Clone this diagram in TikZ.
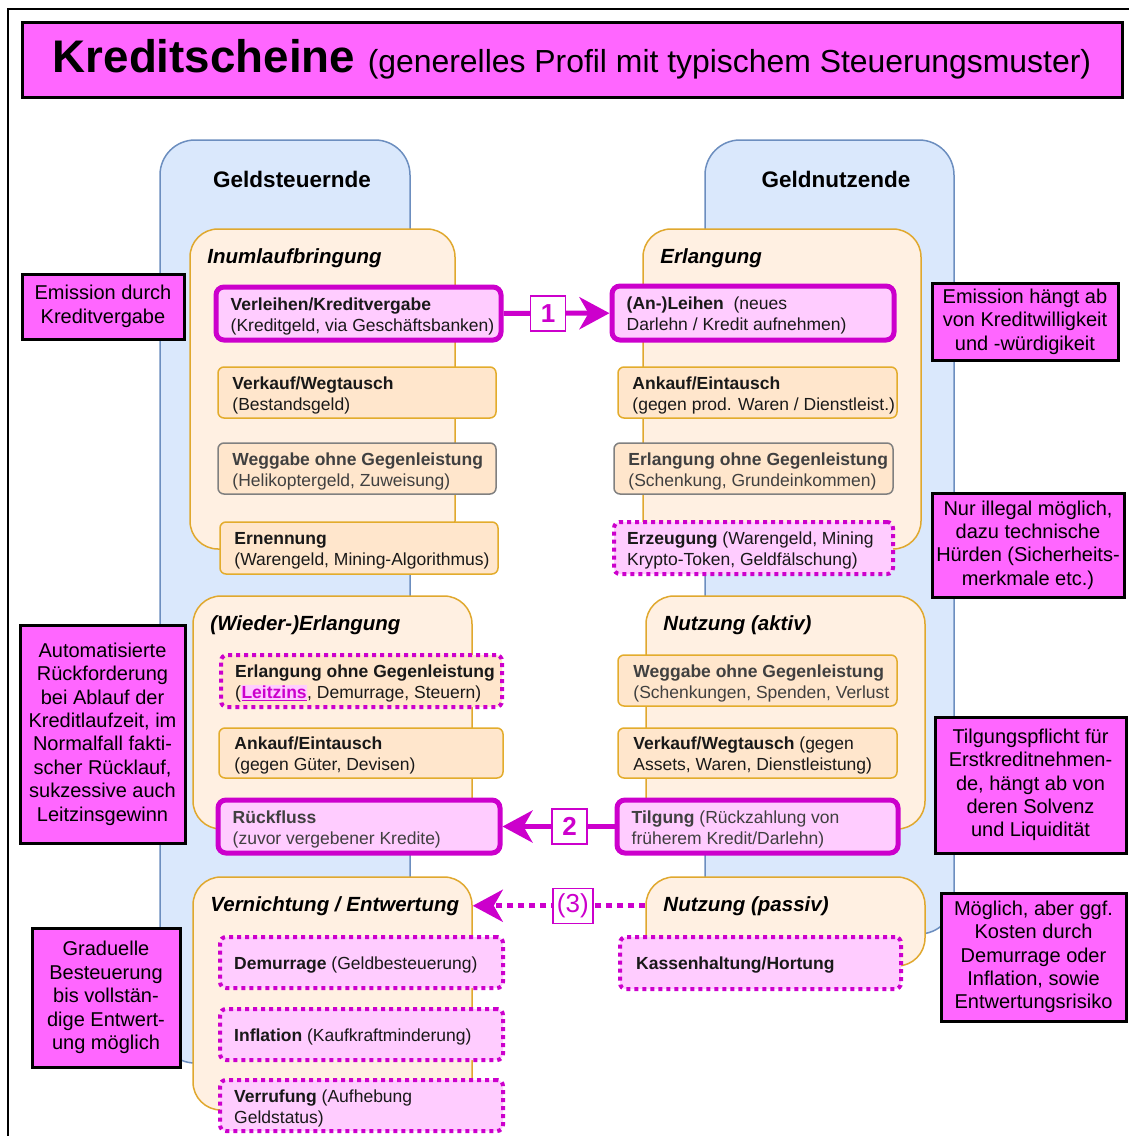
\documentclass[tikz,border=0pt]{standalone}
\usepackage{fontspec}
\setmainfont{Liberation Sans}
\usetikzlibrary{arrows.meta}

\definecolor{mag}{HTML}{CC00CC}
\definecolor{pinkfill}{HTML}{FFCCFF}
\definecolor{notefill}{HTML}{FF66FF}
\definecolor{colfill}{HTML}{DAE8FC}
\definecolor{colline}{HTML}{6C8EBF}
\definecolor{grpfill}{HTML}{FFF0E2}
\definecolor{grpline}{HTML}{E0A82E}
\definecolor{boxfill}{HTML}{FFE6CC}
\definecolor{boxline}{HTML}{E3AC2C}
\definecolor{txtgray}{HTML}{404040}

\tikzset{
	colbox/.style={draw=colline, fill=colfill, line width=1.5pt, rounded corners=35pt, inner sep=0pt},
	colhead/.style={inner sep=0pt, font=\fontsize{22.5}{27}\selectfont\bfseries},
	grpbox/.style={draw=grpline, fill=grpfill, line width=1.5pt, rounded corners=28pt, inner sep=0pt},
	grptitle/.style={anchor=west, inner sep=0pt, font=\fontsize{20.5}{24}\selectfont\bfseries\itshape},
	actbox/.style={draw=boxline, fill=boxfill, line width=1.5pt, rounded corners=6pt, inner sep=0pt},
	graybox/.style={actbox, draw=gray},
	credbox/.style={actbox, draw=mag, fill=pinkfill, line width=5pt, rounded corners=8pt},
	dotbox/.style={actbox, draw=mag, fill=pinkfill, line width=4pt, dash pattern=on 4pt off 4pt},
	boxtext/.style={anchor=west, align=left, inner sep=0pt, yshift=-2.5pt, text=black!90, font=\fontsize{17.5}{21}\selectfont},
	notebox/.style={draw=black, fill=notefill, line width=3pt, align=center, inner sep=0pt, font=\fontsize{20}{23.4}\selectfont},
	titlebox/.style={draw=black, fill=notefill, line width=3pt, inner sep=0pt, font=\fontsize{31.9}{38}\selectfont},
	numtag/.style={draw=mag, fill=white, solid, line width=1.5pt, text=mag, inner sep=0pt, minimum width=35pt, minimum height=35pt, font=\fontsize{26}{26}\selectfont\bfseries},
	flow/.style={draw=mag, line width=5pt, -{Stealth[length=30pt, width=32pt, inset=9pt]}},
}

\begin{document}
\begin{tikzpicture}[x=1pt, y=-1pt]
	\useasboundingbox (0,0) rectangle (1129,1136);
	% Marco exterior
	\draw[line width=2pt] (8,1136) -- (8,9) -- (1129,9);
	
	% Titulo
	\node[titlebox, minimum width=1100pt, minimum height=75pt] (title) at (572,59.5) {{\fontsize{45.7}{46}\selectfont\bfseries Kreditscheine\ }(generelles Profil mit typischem Steuerungsmuster)};
	
	% Columnas
	\node[colbox, minimum width=250pt, minimum height=923pt] (colL) at (285,601.5) {};
	\node[colbox, minimum width=249pt, minimum height=794pt] (colR) at (829.5,537) {};
	\node[colhead] (headL) at (292,179) {Geldsteuernde};
	\node[colhead] (headR) at (836,179) {Geldnutzende};
	
	% Grupos
	\node[grpbox, minimum width=265pt, minimum height=320pt] (gInum) at (322.5,389) {};
	\node[grpbox, minimum width=278pt, minimum height=320pt] (gErl) at (782,389) {};
	\node[grpbox, minimum width=279pt, minimum height=233pt] (gWied) at (332.5,712.5) {};
	\node[grpbox, minimum width=279pt, minimum height=233pt] (gNutzA) at (785.5,712.5) {};
	\node[grpbox, minimum width=279pt, minimum height=233pt] (gVern) at (332.5,993.5) {};
	\node[grpbox, minimum width=279pt, minimum height=89pt] (gNutzP) at (785.5,921.5) {};
	\node[grptitle] (tInum) at ([shift={(18,29.5)}]gInum.north west) {Inumlaufbringung};
	\node[grptitle] (tErl) at ([shift={(18,29.5)}]gErl.north west) {Erlangung};
	\node[grptitle] (tWied) at ([shift={(18,29.5)}]gWied.north west) {(Wieder-)Erlangung};
	\node[grptitle] (tNutzA) at ([shift={(18,29.5)}]gNutzA.north west) {Nutzung (aktiv)};
	\node[grptitle] (tVern) at ([shift={(18,29.5)}]gVern.north west) {Vernichtung / Entwertung};
	\node[grptitle] (tNutzP) at ([shift={(18,29.5)}]gNutzP.north west) {Nutzung (passiv)};
	
	% Inumlaufbringung
	\node[credbox, minimum width=285pt, minimum height=53pt] (verleihen) at (358.5,313.5) {};
	\node[boxtext] (verleihen-t) at ([xshift=17pt]verleihen.west) {\textbf{Verleihen/Kreditvergabe}\\(Kreditgeld, via Geschäftsbanken)};
	\node[actbox, minimum width=278pt, minimum height=51pt] (verkauf) at (357,392.5) {};
	\node[boxtext] (verkauf-t) at ([xshift=15pt]verkauf.west) {\textbf{Verkauf/Wegtausch}\\(Bestandsgeld)};
	\node[graybox, minimum width=278pt, minimum height=51pt] (weggabe) at (357,468.5) {};
	\node[boxtext, text=txtgray] (weggabe-t) at ([xshift=15pt]weggabe.west) {\textbf{Weggabe ohne Gegenleistung}\\(Helikoptergeld, Zuweisung)};
	\node[actbox, minimum width=278pt, minimum height=52pt] (ernennung) at (359,548) {};
	\node[boxtext] (ernennung-t) at ([xshift=15pt]ernennung.west) {\textbf{Ernennung}\\(Warengeld, Mining-Algorithmus)};
	
	% Erlangung
	\node[credbox, minimum width=282pt, minimum height=54pt] (anleihen) at (753,313) {};
	\node[boxtext] (anleihen-t) at ([xshift=17pt]anleihen.west) {\textbf{(An-)Leihen}\ \ (neues\\Darlehn / Kredit aufnehmen)};
	\node[actbox, minimum width=279pt, minimum height=51pt] (ankauf) at (757.5,392.5) {};
	\node[boxtext] (ankauf-t) at ([xshift=15pt]ankauf.west) {\textbf{Ankauf/Eintausch}\\(gegen prod. Waren / Dienstleist.)};
	\node[graybox, minimum width=279pt, minimum height=51pt] (erlangung) at (753.5,468.5) {};
	\node[boxtext, text=txtgray] (erlangung-t) at ([xshift=15pt]erlangung.west) {\textbf{Erlangung ohne Gegenleistung}\\(Schenkung, Grundeinkommen)};
	\node[dotbox, minimum width=279pt, minimum height=52pt] (erzeugung) at (753.5,548) {};
	\node[boxtext] (erzeugung-t) at ([xshift=15pt]erzeugung.west) {\textbf{Erzeugung} (Warengeld, Mining\\Krypto-Token, Geldfälschung)};
	
	% (Wieder-)Erlangung
	\node[dotbox, fill=boxfill, minimum width=281pt, minimum height=52pt] (abgabe) at (361.5,681) {};
	\node[boxtext] (abgabe-t) at ([xshift=16pt]abgabe.west) {\textbf{Erlangung ohne Gegenleistung}\\({\fboxsep=0.5pt\colorbox{pinkfill}{\textcolor{mag}{\textbf{\underline{Leitzins}}}}}, Demurrage, Steuern)};
	\node[actbox, minimum width=284pt, minimum height=50pt] (eintausch) at (361,753) {};
	\node[boxtext] (eintausch-t) at ([xshift=16pt]eintausch.west) {\textbf{Ankauf/Eintausch}\\(gegen Güter, Devisen)};
	\node[credbox, minimum width=282pt, minimum height=53pt] (rueckfluss) at (359,826.5) {};
	\node[boxtext, text=txtgray] (rueckfluss-t) at ([xshift=17pt]rueckfluss.west) {\textbf{Rückfluss}\\(zuvor vergebener Kredite)};
	
	% Nutzung (aktiv)
	\node[actbox, minimum width=279pt, minimum height=51pt] (weitergabe) at (757.5,680.5) {};
	\node[boxtext, text=txtgray] (weitergabe-t) at ([xshift=16pt]weitergabe.west) {\textbf{Weggabe ohne Gegenleistung}\\(Schenkungen, Spenden, Verlust};
	\node[actbox, minimum width=279pt, minimum height=50pt] (wegtausch) at (757.5,753) {};
	\node[boxtext] (wegtausch-t) at ([xshift=16pt]wegtausch.west) {\textbf{Verkauf/Wegtausch} (gegen\\Assets, Waren, Dienstleistung)};
	\node[credbox, minimum width=281pt, minimum height=53pt] (tilgung) at (757.5,826.5) {};
	\node[boxtext, text=txtgray] (tilgung-t) at ([xshift=17pt]tilgung.west) {\textbf{Tilgung} (Rückzahlung von\\früherem Kredit/Darlehn)};
	
	% Vernichtung / Entwertung
	\node[dotbox, minimum width=283pt, minimum height=51pt] (demurrage) at (361.5,962.5) {};
	\node[boxtext] (demurrage-t) at ([xshift=16pt]demurrage.west) {\textbf{Demurrage} (Geldbesteuerung)};
	\node[dotbox, minimum width=283pt, minimum height=51pt] (inflation) at (361.5,1034.5) {};
	\node[boxtext] (inflation-t) at ([xshift=16pt]inflation.west) {\textbf{Inflation} (Kaufkraftminderung)};
	\node[dotbox, minimum width=283pt, minimum height=51pt] (verrufung) at (361.5,1105.5) {};
	\node[boxtext] (verrufung-t) at ([xshift=16pt]verrufung.west) {\textbf{Verrufung} (Aufhebung\\Geldstatus)};
	
	% Nutzung (passiv)
	\node[dotbox, minimum width=281pt, minimum height=52pt] (kasse) at (760.5,963) {};
	\node[boxtext] (kasse-t) at ([xshift=18pt]kasse.west) {\textbf{Kassenhaltung/Hortung}};
	
	% Flechas
	\draw[flow] (verleihen) -- node[numtag, pos=0.42] (tag1) {1} (anleihen);
	\draw[flow] (tilgung) -- node[numtag, pos=0.40] (tag2) {2} (rueckfluss);
	\draw[flow, dash pattern=on 6pt off 5pt] (gNutzP.west |- tNutzP) -- node[numtag, pos=0.42, minimum width=40pt, font=\fontsize{26}{26}\selectfont] (tag3) {(3)} (gVern.east |- tVern);
	
	% Notas
	\node[notebox, minimum width=162pt, minimum height=65pt] (nEmission) at (103,306.5) {Emission durch\\Kreditvergabe};
	\node[notebox, minimum width=165pt, minimum height=218pt] (nRueck) at (102.5,734) {Automatisierte\\Rückforderung\\bei Ablauf der\\Kreditlaufzeit, im\\Normalfall fakti-\\scher Rücklauf,\\sukzessive auch\\Leitzinsgewinn};
	\node[notebox, minimum width=148pt, minimum height=139pt] (nGrad) at (106,997.5) {Graduelle\\Besteuerung\\bis vollstän-\\dige Entwert-\\ung möglich};
	\node[notebox, minimum width=186pt, minimum height=77pt] (nKredit) at (1025,321.5) {Emission hängt ab\\von Kreditwilligkeit\\und -würdigikeit};
	\node[notebox, minimum width=192pt, minimum height=104pt] (nIllegal) at (1028,545) {Nur illegal möglich,\\dazu technische\\Hürden (Sicherheits-\\merkmale etc.)};
	\node[notebox, minimum width=191pt, minimum height=136pt] (nTilgung) at (1030.5,785) {Tilgungspflicht für\\Erstkreditnehmen-\\de, hängt ab von\\deren Solvenz\\und Liquidität};
	\node[notebox, minimum width=185pt, minimum height=128pt] (nMoeglich) at (1033.5,957) {Möglich, aber ggf.\\Kosten durch\\Demurrage oder\\Inflation, sowie\\Entwertungsrisiko};
\end{tikzpicture}
\end{document}
